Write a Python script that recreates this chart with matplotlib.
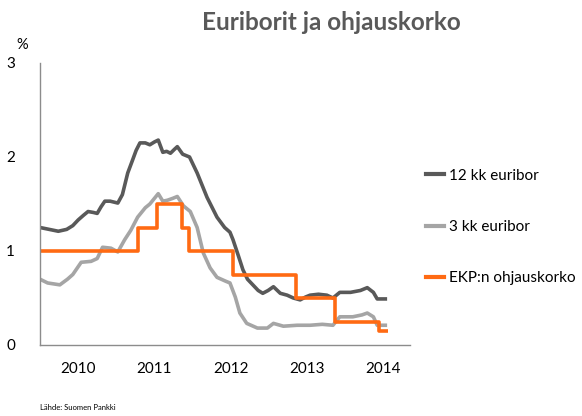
import matplotlib
matplotlib.use("Agg")
import matplotlib.pyplot as plt
from matplotlib.lines import Line2D

plt.rcParams['font.family'] = ['Lato', 'DejaVu Sans']

# Fractional years and values
eur12_t = [2010.00, 2010.12, 2010.24, 2010.35, 2010.43, 2010.50, 2010.57, 2010.63, 2010.70,
           2010.75, 2010.80, 2010.85, 2010.92, 2011.02, 2011.08, 2011.15, 2011.21, 2011.26,
           2011.31, 2011.38, 2011.44, 2011.50, 2011.55, 2011.61, 2011.66, 2011.71, 2011.76,
           2011.80, 2011.87, 2011.96, 2012.06, 2012.19, 2012.32, 2012.42, 2012.49, 2012.53,
           2012.60, 2012.66, 2012.72, 2012.79, 2012.86, 2012.92, 2012.99, 2013.06, 2013.15,
           2013.24, 2013.32, 2013.41, 2013.48, 2013.54, 2013.65, 2013.76, 2013.84, 2013.93,
           2014.07, 2014.20, 2014.29, 2014.37, 2014.42, 2014.55]
eur12_v = [1.25, 1.23, 1.21, 1.23, 1.27, 1.33, 1.38, 1.42, 1.41,
           1.40, 1.47, 1.53, 1.53, 1.51, 1.60, 1.83, 1.96, 2.07,
           2.15, 2.15, 2.13, 2.16, 2.18, 2.05, 2.06, 2.04, 2.08,
           2.11, 2.03, 2.00, 1.83, 1.57, 1.36, 1.25, 1.20, 1.12,
           0.95, 0.80, 0.70, 0.64, 0.58, 0.55, 0.58, 0.62, 0.55,
           0.53, 0.50, 0.48, 0.51, 0.53, 0.54, 0.53, 0.50, 0.56,
           0.56, 0.58, 0.61, 0.56, 0.49, 0.49]

eur3_t = [2010.00, 2010.10, 2010.26, 2010.36, 2010.43, 2010.54, 2010.67, 2010.75, 2010.82,
          2010.93, 2011.02, 2011.11, 2011.19, 2011.28, 2011.38, 2011.44, 2011.55, 2011.61,
          2011.67, 2011.74, 2011.80, 2011.88, 2011.97, 2012.06, 2012.14, 2012.23, 2012.32,
          2012.43, 2012.49, 2012.56, 2012.62, 2012.71, 2012.85, 2012.98, 2013.06, 2013.19,
          2013.37, 2013.54, 2013.70, 2013.84, 2013.93, 2014.10, 2014.22, 2014.29, 2014.37,
          2014.42, 2014.55]
eur3_v = [0.70, 0.66, 0.64, 0.70, 0.75, 0.88, 0.89, 0.92, 1.04,
          1.03, 0.99, 1.12, 1.22, 1.36, 1.46, 1.50, 1.61, 1.53,
          1.54, 1.56, 1.58, 1.48, 1.42, 1.25, 0.98, 0.82, 0.72,
          0.68, 0.66, 0.51, 0.34, 0.23, 0.18, 0.18, 0.23, 0.20,
          0.21, 0.21, 0.22, 0.21, 0.30, 0.30, 0.32, 0.34, 0.30,
          0.21, 0.21]

ecb_t = [2010.00, 2011.28, 2011.53, 2011.86, 2011.95, 2012.53, 2013.35, 2013.87, 2014.44, 2014.56]
ecb_v = [1.00, 1.25, 1.50, 1.25, 1.00, 0.75, 0.50, 0.25, 0.15, 0.15]

year_ticks = [2010.5, 2011.5, 2012.5, 2013.5, 2014.5]
year_labels = ['2010', '2011', '2012', '2013', '2014']

title = 'Euriborit ja ohjauskorko'
series_labels = ['12 kk euribor', '3 kk euribor', 'EKP:n ohjauskorko']
source = 'Lähde: Suomen Pankki'

c12 = '#595959'
c3 = '#a5a5a5'
cecb = '#ff6a13'

fig = plt.figure(figsize=(5.82, 4.16), dpi=100)
ax = fig.add_axes([40/582, 71/416, 370/582, 282/416])

ax.plot(eur12_t, eur12_v, color=c12, lw=2.6, solid_joinstyle='round', solid_capstyle='butt')
ax.plot(eur3_t, eur3_v, color=c3, lw=2.6, solid_joinstyle='round', solid_capstyle='butt')
ax.plot(ecb_t, ecb_v, color=cecb, lw=2.6, drawstyle='steps-post', solid_capstyle='butt')

ax.set_xlim(2010.0, 2014.85)
ax.set_ylim(0, 3)
ax.set_yticks([0, 1, 2, 3])
ax.set_yticklabels(['0', '1', '2', '3'])
ax.set_xticks(year_ticks)
ax.set_xticklabels(year_labels)
ax.tick_params(axis='both', length=0, labelsize=11, colors='black')
ax.tick_params(axis='y', pad=18)
ax.tick_params(axis='x', pad=12)
for s in ['top', 'right']:
    ax.spines[s].set_visible(False)
for s in ['left', 'bottom']:
    ax.spines[s].set_color('#8c8c8c')
    ax.spines[s].set_linewidth(1.0)

fig.text(16/582, 1 - 45/416, '%', fontsize=10.5, ha='left', va='center')
fig.text(331/582, 1 - 22/416, title, fontsize=17.5, fontweight='bold', color='#595959',
         ha='center', va='center')
fig.text(40/582, 1 - 407/416, source, fontsize=5.5, ha='left', va='center')

handles = [Line2D([], [], color=c, lw=3) for c in (c12, c3, cecb)]
fig.legend(handles, series_labels, loc='center left', bbox_to_anchor=(412/582, 1 - 227/416),
           frameon=False, fontsize=11, labelspacing=2.45, handlelength=1.2, handletextpad=0.3)

fig.savefig('out.png', dpi=100)
